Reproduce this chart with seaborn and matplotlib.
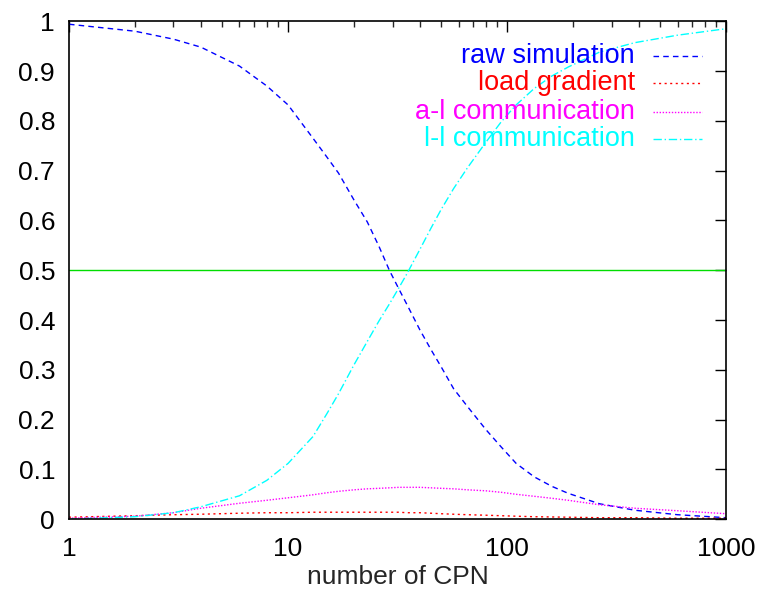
import numpy as np
import pandas as pd
import matplotlib
matplotlib.use("Agg")
import matplotlib.pyplot as plt
import seaborn as sns

# number of CPN (log axis) and the fraction of time spent in each part
cpn = [1, 2, 3, 4, 6, 8, 10, 13, 15, 17, 20, 23, 26, 29, 32, 35, 40, 45, 50, 57, 66, 80, 94,
       110, 133, 160, 190, 264, 383, 600, 1000]
raw_sim = [0.994, 0.980, 0.964, 0.948, 0.910, 0.870, 0.832, 0.765, 0.728, 0.695, 0.641, 0.597,
           0.548, 0.500, 0.463, 0.430, 0.380, 0.340, 0.306, 0.262, 0.226, 0.180, 0.145,
           0.112, 0.085, 0.066, 0.052, 0.031, 0.018, 0.009, 0.003]
load_grad = [0.004, 0.007, 0.009, 0.010, 0.012, 0.013, 0.013, 0.014, 0.014, 0.014, 0.014, 0.014,
             0.014, 0.014, 0.014, 0.013, 0.013, 0.012, 0.011, 0.010, 0.009, 0.008, 0.007,
             0.006, 0.005, 0.0045, 0.004, 0.003, 0.003, 0.002, 0.002]
al_comm = [0.002, 0.006, 0.013, 0.022, 0.032, 0.038, 0.043, 0.049, 0.053, 0.056, 0.059, 0.061,
           0.062, 0.063, 0.064, 0.064, 0.064, 0.063, 0.062, 0.061, 0.059, 0.057, 0.054,
           0.050, 0.046, 0.042, 0.038, 0.029, 0.022, 0.017, 0.011]
ll_comm = [0.0, 0.005, 0.013, 0.025, 0.047, 0.078, 0.112, 0.166, 0.211, 0.252, 0.310, 0.357,
           0.398, 0.432, 0.464, 0.494, 0.542, 0.585, 0.622, 0.664, 0.706, 0.757, 0.798,
           0.832, 0.865, 0.890, 0.908, 0.938, 0.957, 0.972, 0.985]
half_line = 0.5

labels = ["raw simulation", "load gradient", "a-l communication", "l-l communication"]
colors = ["#0000ff", "#ff0000", "#ff00ff", "#00ffff"]
dashes = [(4, 3), (1.5, 2.5), (1, 1.2), (6, 2, 1, 2)]

sns.set_style("white")
plt.rcParams["font.family"] = ["Liberation Sans", "DejaVu Sans"]

fig = plt.figure(figsize=(7.58, 5.90), dpi=100)
ax = fig.add_axes([0.091, 0.120, 0.867, 0.844])

df = pd.DataFrame({"cpn": cpn, labels[0]: raw_sim, labels[1]: load_grad,
                   labels[2]: al_comm, labels[3]: ll_comm})

ax.axhline(half_line, color="#00dd00", lw=1.0)
for lab, c, d in zip(labels, colors, dashes):
    sns.lineplot(data=df, x="cpn", y=lab, ax=ax, color=c, lw=1.0)
    ax.lines[-1].set_dashes(d)

ax.set_xscale("log")
ax.set_xlim(1, 1000)
ax.set_ylim(0, 1)
ax.set_xticks([1, 10, 100, 1000])
ax.set_xticklabels(["1", "10", "100", "1000"])
ax.set_yticks(np.arange(0, 1.01, 0.1))
ax.set_yticklabels(["0", "0.1", "0.2", "0.3", "0.4", "0.5", "0.6", "0.7", "0.8", "0.9", "1"])
ax.tick_params(which="major", direction="in", length=8, width=1, top=True, right=True,
               labelsize=19, pad=10, colors="black")
ax.tick_params(axis="x", which="major", pad=13)
ax.tick_params(which="minor", direction="in", length=4, width=1, top=True, right=True)
ax.set_xlabel("number of CPN", fontsize=19, labelpad=3)
ax.set_ylabel("")
for s in ax.spines.values():
    s.set_color("black")
    s.set_linewidth(1.2)

# gnuplot-style key: right-aligned coloured text, sample line to the right
key_y = [0.930, 0.875, 0.818, 0.763]
for lab, c, d, yy in zip(labels, colors, dashes, key_y):
    ax.text(0.861, yy, lab, color=c, fontsize=19.5, ha="right", va="center",
            transform=ax.transAxes)
    ln, = ax.plot([0.889, 0.963], [yy, yy], color=c, lw=1.0, transform=ax.transAxes)
    ln.set_dashes(d)

if ax.get_legend() is not None:
    ax.get_legend().remove()

fig.savefig("out.png", dpi=100)
